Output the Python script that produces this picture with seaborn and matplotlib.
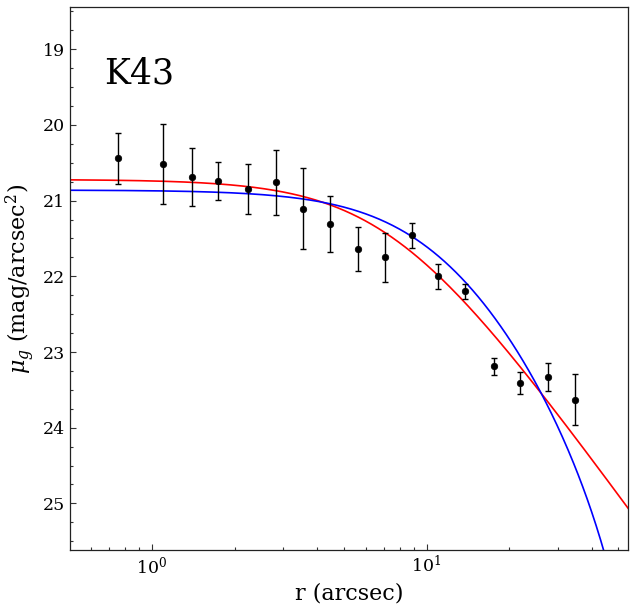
import numpy as np
import pandas as pd
import matplotlib
matplotlib.use('Agg')
import matplotlib.pyplot as plt
import seaborn as sns
from matplotlib.ticker import MultipleLocator

# ---------------------------------------------
# Surface brightness profile of K43
# ---------------------------------------------
r_arcsec = [0.754, 1.099, 1.402, 1.744, 2.243, 2.837, 3.557, 4.462, 5.643,
            7.079, 8.832, 11.04, 13.84, 17.66, 21.9, 27.7, 34.75]
mu_g = [20.44, 20.52, 20.69, 20.74, 20.84, 20.76, 21.11, 21.31, 21.64,
        21.75, 21.46, 22.00, 22.20, 23.19, 23.41, 23.33, 23.63]
mu_err = [0.335, 0.53, 0.38, 0.25, 0.33, 0.43, 0.535, 0.375, 0.29,
          0.32, 0.165, 0.167, 0.10, 0.11, 0.145, 0.185, 0.34]

# fitted model parameters
eff_mu0, eff_a, eff_gamma = 20.72, 7.4, 2.0        # EFF profile (red)
king_mu0, king_rc, king_rt = 20.86, 11.5, 71.9     # King profile (blue)

df = pd.DataFrame({'r': r_arcsec, 'mu': mu_g, 'err': mu_err})

# ---------------------------------------------
# Model curves
# ---------------------------------------------
r_model = np.logspace(np.log10(0.5), np.log10(55), 500)
mu_eff = eff_mu0 + 1.25 * eff_gamma * np.log10(1 + (r_model / eff_a) ** 2)

c = 1 / np.sqrt(1 + (king_rt / king_rc) ** 2)
f = (1 / np.sqrt(1 + (r_model / king_rc) ** 2) - c) / (1 - c)
keep = f > 0
mu_king = np.full_like(r_model, np.nan)
mu_king[keep] = king_mu0 - 5 * np.log10(f[keep])

curves = pd.DataFrame({'r': r_model, 'eff': mu_eff, 'king': mu_king})

# ---------------------------------------------
# Plot
# ---------------------------------------------
sns.set_style('white')
plt.rcParams['font.family'] = ['DejaVu Serif']
plt.rcParams['mathtext.fontset'] = 'dejavuserif'
plt.rcParams['text.color'] = 'black'
plt.rcParams['axes.labelcolor'] = 'black'

fig = plt.figure(figsize=(6.34, 6.08), dpi=100)
ax = fig.add_axes([0.1104, 0.0949, 0.8806, 0.8931])

sns.lineplot(data=curves, x='r', y='eff', color='red', lw=1.2, ax=ax)
sns.lineplot(data=curves, x='r', y='king', color='blue', lw=1.2, ax=ax)
ax.errorbar(df['r'], df['mu'], yerr=df['err'], fmt='none', ecolor='black',
            elinewidth=1.0, capsize=2.5, capthick=1.0)
sns.scatterplot(data=df, x='r', y='mu', color='black', s=22,
                edgecolor='black', linewidth=0.5, zorder=5, ax=ax)

ax.set_xscale('log')
ax.set_xlim(0.503, 54.3)
ax.set_ylim(25.62, 18.445)
ax.yaxis.set_major_locator(MultipleLocator(1))
ax.yaxis.set_minor_locator(MultipleLocator(0.25))

ax.tick_params(which='both', direction='in', left=True, bottom=True,
               top=False, right=False, labelsize=12.5, colors='#333333',
               labelcolor='black')
ax.tick_params(which='major', length=4, width=0.8)
ax.tick_params(which='minor', length=2.5, width=0.8)
for sp in ax.spines.values():
    sp.set_color('#222222')
    sp.set_linewidth(0.9)

ax.set_xlabel('r (arcsec)', fontsize=16)
ax.set_ylabel(r'$\mu_g$ (mag/arcsec$^2$)', fontsize=16)
ax.text(0.061, 0.86, 'K43', transform=ax.transAxes, fontsize=25, color='black')

plt.savefig('out.png', dpi=100)
